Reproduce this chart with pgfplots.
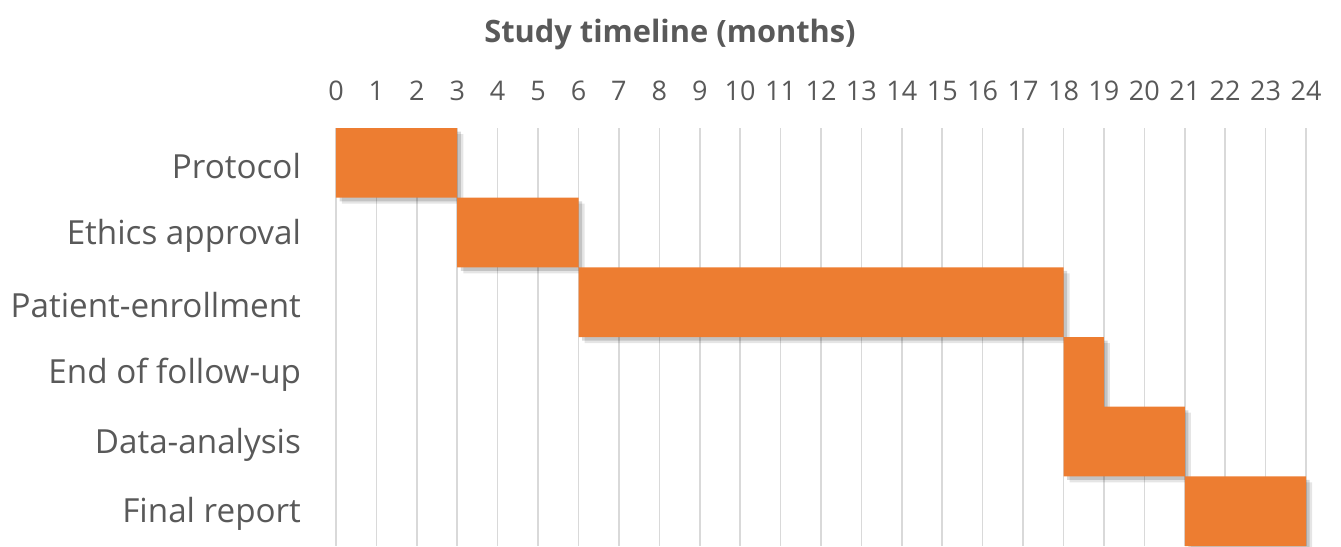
\documentclass[border=0pt]{standalone}
\usepackage{fontspec}
\setmainfont{Open Sans}
\usepackage{pgfplots}
\pgfplotsset{compat=1.18}
\usetikzlibrary{shadows,calc}
\definecolor{barorange}{HTML}{ED7D31}
\definecolor{txtgray}{HTML}{595959}
\definecolor{gridgray}{HTML}{D9D9D9}
\begin{document}
\begin{tikzpicture}
\begin{axis}[
  name=ax,
  scale only axis,
  width=485pt, height=209pt,
  xbar stacked,
  bar width=1,
  xmin=0, xmax=24,
  ymin=-0.5, ymax=5.5,
  y dir=reverse,
  axis line style={draw=none},
  xtick={0,1,...,24},
  xticklabel pos=upper,
  xmajorgrids,
  grid style={gridgray, line width=0.8pt},
  major tick length=0pt,
  ytick={0,1,2,3,4,5},
  yticklabels={Protocol,Ethics approval,Patient-enrollment,End of follow-up,Data-analysis,Final report},
  yticklabel style={font=\fontsize{16.6}{19}\selectfont, text=txtgray, yshift=-1.5pt},
  xticklabel style={font=\fontsize{13.5}{16}\selectfont, text=txtgray},
  /pgf/number format/assume math mode=true,
  xticklabel shift=10pt,
  yticklabel shift=14pt,
  clip=false,
]
\addplot[draw=none, fill=none] coordinates {(0,0) (3,1) (6,2) (18,3) (18,4) (21,5)};
\addplot[draw=none, fill=barorange,
  drop shadow={shadow xshift=3pt, shadow yshift=-3pt, fill=black, opacity=0.10},
  drop shadow={shadow xshift=1.8pt, shadow yshift=-1.8pt, fill=black, opacity=0.15}] coordinates {(3,0) (3,1) (12,2) (1,3) (3,4) (3,5)};
\end{axis}
\path ($(ax.south west)+(-168pt,0)$) rectangle ($(ax.north east)+(17.5pt,64pt)$);
\node[font=\fontsize{15.4}{18}\selectfont\bfseries, text=txtgray] at ($(ax.north west)+(-168pt+335pt,64pt-17pt)$) {Study timeline (months)};
\end{tikzpicture}
\end{document}
